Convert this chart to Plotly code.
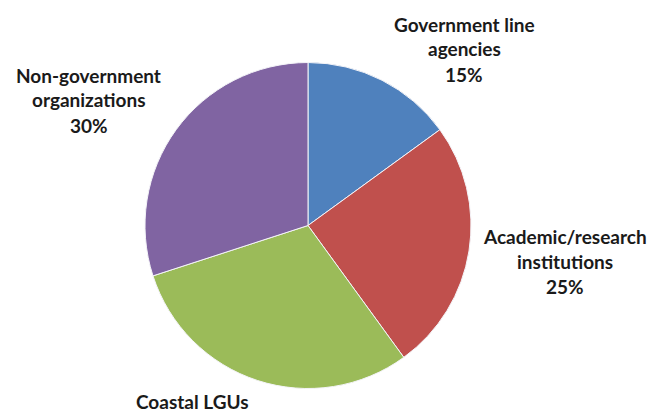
import plotly.graph_objects as go

# Share of respondents by type of institution
categories = ["Government line agencies", "Academic/research institutions",
              "Coastal LGUs", "Non-government organizations"]
name_lines = [["Government line", "agencies"],
              ["Academic/research", "institutions"],
              ["Coastal LGUs"],
              ["Non-government", "organizations"]]
shares = [15, 25, 30, 30]
colors = ["#4F81BD", "#C0504D", "#9BBB59", "#8064A2"]

W, H = 659, 414

fig = go.Figure(go.Pie(
    labels=categories,
    values=shares,
    sort=False,
    direction="clockwise",
    rotation=0,
    marker=dict(colors=colors, line=dict(color="#F4F4F8", width=1)),
    textinfo="none",
    showlegend=False,
    domain=dict(x=[145 / W, 471 / W], y=[1 - 390 / H, 1 - 61 / H]),
))

# label anchor: centre x and centre y of the first line, in pixels
label_pos = [(464, 24), (565, 236), (192, 401), (89, 75)]
line_gap = 25
for lines, val, (px, py) in zip(name_lines, shares, label_pos):
    texts = list(lines)
    # the share of the bottom slice falls below the page edge
    if py + line_gap * len(lines) < H - 6:
        texts.append(f"{val}%")
    for i, t in enumerate(texts):
        fig.add_annotation(
            x=px / W, y=1 - (py + i * line_gap) / H, xref="paper", yref="paper",
            text=t, showarrow=False,
            xanchor="center", yanchor="middle", align="center",
            font=dict(family="Lato", size=19, color="#1a1a1a", weight="bold"),
        )

fig.update_layout(
    width=W, height=H,
    margin=dict(l=0, r=0, t=0, b=0),
    paper_bgcolor="white", plot_bgcolor="white",
)

fig.write_html("out.html")
